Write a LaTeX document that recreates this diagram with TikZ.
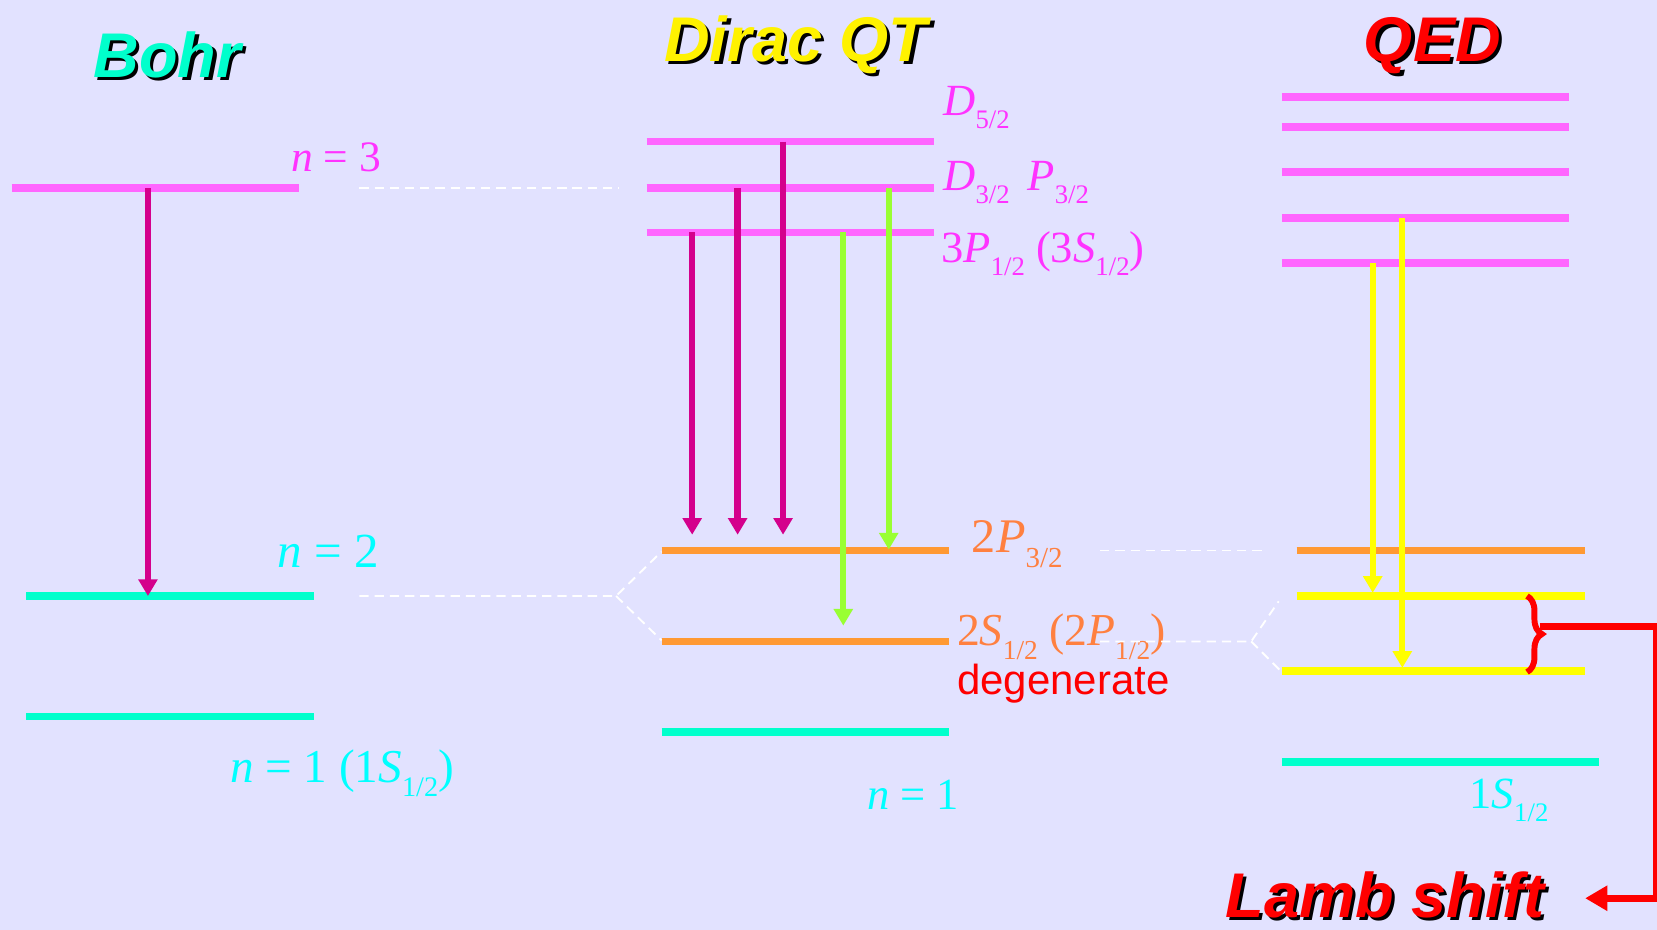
\documentclass[tikz,border=0pt]{standalone}
\usepackage{fontspec}
\setmainfont{Liberation Serif}
\setsansfont{Liberation Sans}
\usepackage{graphicx}
\usetikzlibrary{arrows.meta,decorations.pathreplacing}

\definecolor{bgcol}{RGB}{226,226,255}
\definecolor{lvlmag}{RGB}{255,102,255}
\definecolor{txtmag}{RGB}{255,51,255}
\definecolor{lvlteal}{RGB}{0,255,204}
\definecolor{txtcyan}{RGB}{0,255,255}
\definecolor{lvlorange}{RGB}{255,153,51}
\definecolor{txtorange}{RGB}{255,128,64}
\definecolor{arrmag}{RGB}{212,0,140}
\definecolor{arrgreen}{RGB}{153,255,51}
\definecolor{lvlyellow}{RGB}{255,255,0}

\tikzset{
  level/.style={line width=2.1pt},
  trans/.style={line width=1.7pt,-{Triangle[length=4.5pt,width=5pt]}},
  guide/.style={white,line width=0.5pt,dash pattern=on 2.5pt off 1.6pt},
  lbl/.style={anchor=base west,inner sep=0pt,font=\fontsize{#1}{#1}\selectfont},
  headline/.style={anchor=base west,inner sep=0pt,
    font=\sffamily\bfseries\itshape\fontsize{17}{20}\selectfont},
}
% subscript 1/2, 3/2, 5/2
\newcommand{\half}[1]{\raisebox{-.3em}{\scalebox{.6}{#1/2}}}
% title with black drop shadow
\newcommand{\shadowhead}[5]{%
  \node[headline,text=black] (#1s) at (#2+3,#3+3) {#5};
  \node[headline,text=#4] (#1) at (#2,#3) {#5};}

\begin{document}
\begin{tikzpicture}[x=0.1mm,y=-0.1mm]
  \useasboundingbox (0,0) rectangle (1568,880);
  \fill[bgcol] (0,0) rectangle (1568,880);

  % titles
  \shadowhead{bohr}{88}{73}{lvlteal}{Bohr}
  \shadowhead{dirac}{628}{58}{yellow}{Dirac QT}
  \shadowhead{qed}{1290}{58}{red}{QED}
  \shadowhead{lamb}{1159}{868}{red}{Lamb shift}

  % Bohr
  \draw[level,lvlmag] (11,178) -- (283,178);
  \draw[level,lvlteal] (25,564) -- (297,564);
  \draw[level,lvlteal] (25,678) -- (297,678);
  \draw[trans,arrmag] (140,178) -- (140,564);
  \node[lbl=11.7,txtmag] (n3) at (275,162) {\textit{n} = 3};
  \node[lbl=13.2,txtcyan] (n2) at (262,537) {\textit{n} = 2};
  \node[lbl=12.7,txtcyan] (n1) at (217,740) {\textit{n} = 1 (1\textit{S}\half{1})};

  % Dirac
  \foreach \y in {134,178,220}
    \draw[level,lvlmag] (612,\y) -- (884,\y);
  \draw[level,lvlorange] (626,521) -- (898,521);
  \draw[level,lvlorange] (626,607) -- (898,607);
  \draw[level,lvlteal] (626,693) -- (898,693);
  \draw[trans,arrmag] (655,220) -- (655,506);
  \draw[trans,arrmag] (698,178) -- (698,506);
  \draw[trans,arrmag] (741,134) -- (741,506);
  \draw[trans,arrgreen] (798,220) -- (798,592);
  \draw[trans,arrgreen] (841,178) -- (841,520);
  \node[lbl=12,txtmag] (d52) at (892,109) {\textit{D}\half{5}};
  \node[lbl=12,txtmag] (d32) at (892,180) {\textit{D}\half{3}\hspace{.4em}\textit{P}\half{3}};
  \node[lbl=12,txtmag] (p12) at (890,248) {3\textit{P}\half{1} (3\textit{S}\half{1})};
  \node[lbl=13,txtorange] (p32) at (919,523) {2\textit{P}\half{3}};
  \node[lbl=12.3,txtorange] (s12) at (905,611) {2\textit{S}\half{1} (2\textit{P}\half{1})};
  \node[lbl=11.3,red] (degen) at (905,657) {\sffamily degenerate};
  \node[lbl=12,txtcyan] (dn1) at (820,766) {\textit{n} = 1};

  % QED
  \foreach \y in {92,120,163,206,249}
    \draw[level,lvlmag] (1213,\y) -- (1485,\y);
  \draw[level,lvlorange] (1227,521) -- (1500,521);
  \draw[level,lvlyellow] (1227,564) -- (1500,564);
  \draw[level,lvlyellow] (1213,635) -- (1500,635);
  \draw[level,lvlteal] (1213,721) -- (1513,721);
  \draw[trans,lvlyellow] (1299,249) -- (1299,561);
  \draw[trans,lvlyellow] (1327,206) -- (1327,632);
  \node[lbl=12,txtcyan] (q1s) at (1390,765) {1\textit{S}\half{1}};

  % correspondence guides
  \draw[guide] (340,178) -- (585,178);
  \draw[guide] (340,564) -- (583,564) -- (626,522);
  \draw[guide] (583,564) -- (626,606);
  \draw[guide] (1041,521) -- (1194,521);
  \draw[guide] (1041,607) -- (1184,607) -- (1210,569);
  \draw[guide] (1184,607) -- (1213,636);

  % Lamb shift
  \draw[red,line width=1.6pt,decorate,decoration={brace,amplitude=4pt}]
    (1445,564) -- (1445,636);
  \coordinate (bracetip) at (1457,593);
  \coordinate (lambtip) at (1500,850);
  \draw[red,line width=2pt,-{Triangle[length=6pt,width=6.5pt]}]
    (bracetip) -- (1568,593) -- (1568,850) -- (lambtip);
\end{tikzpicture}
\end{document}
